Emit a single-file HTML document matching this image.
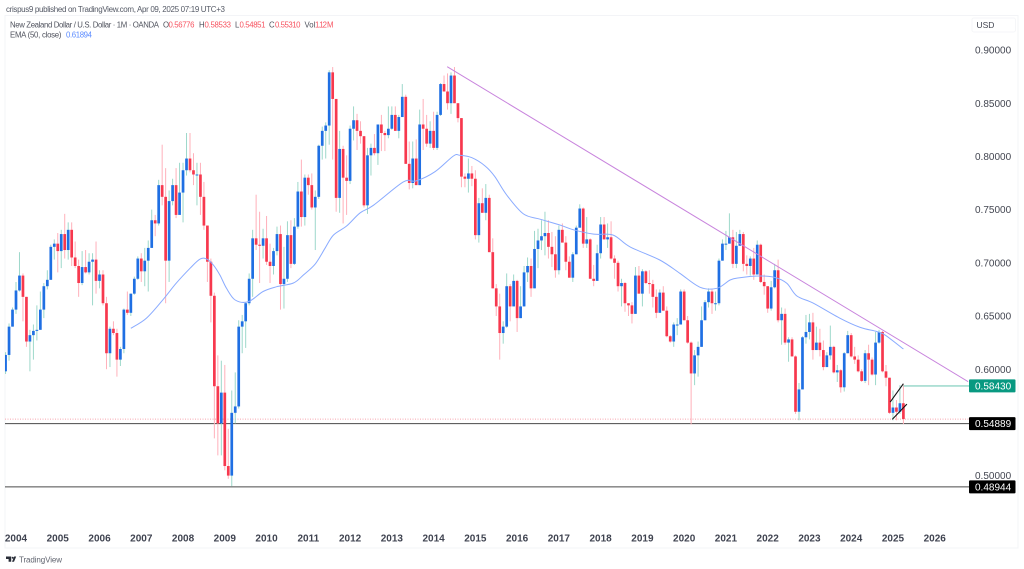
<!DOCTYPE html>
<html lang="en">
<head>
<meta charset="utf-8">
<title>New Zealand Dollar / U.S. Dollar monthly chart</title>
<style>
html,body{margin:0;padding:0;background:#fff;}
body{width:1024px;height:569px;overflow:hidden;font-family:"Liberation Sans",sans-serif;}
svg{display:block;}
text{font-family:"Liberation Sans",sans-serif;}
</style>
</head>
<body>
<svg id="chart" xmlns="http://www.w3.org/2000/svg" width="1024" height="569" viewBox="0 0 1024 569">
  <defs><clipPath id="plot-clip"><rect x="5" y="15" width="964" height="533"/></clipPath></defs>
  <rect x="5" y="15.5" width="1013" height="532.5" fill="#fff" stroke="#f3f4f7" stroke-width="1"/>
  <text x="6" y="12" font-size="8" fill="#555a66" textLength="219" lengthAdjust="spacing">crispus9 published on TradingView.com, Apr 09, 2025 07:19 UTC+3</text>
  <text x="10" y="27.5" font-size="7.8" fill="#50535e" textLength="149" lengthAdjust="spacing">New Zealand Dollar / U.S. Dollar · 1M · OANDA</text>
  <g font-size="7.8" fill="#50535e">
    <text x="163" y="27.5">O</text><text x="168.5" y="27.5" fill="#f7525f" textLength="26" lengthAdjust="spacing">0.56776</text>
    <text x="199" y="27.5">H</text><text x="204.5" y="27.5" fill="#f7525f" textLength="26.5" lengthAdjust="spacing">0.58533</text>
    <text x="235" y="27.5">L</text><text x="239.5" y="27.5" fill="#f7525f" textLength="26" lengthAdjust="spacing">0.54851</text>
    <text x="269" y="27.5">C</text><text x="275" y="27.5" fill="#f7525f" textLength="25.5" lengthAdjust="spacing">0.55310</text>
    <text x="304.5" y="27.5">Vol</text><text x="315" y="27.5" fill="#f7525f" textLength="18.5" lengthAdjust="spacing">1.12 M</text>
  </g>
  <text x="10" y="37.5" font-size="7.8" fill="#50535e" textLength="51.5" lengthAdjust="spacing">EMA (50, close)</text>
  <text x="66" y="37.5" font-size="7.8" fill="#5b8bff" textLength="26" lengthAdjust="spacing">0.61894</text>
  <g>
    <rect x="972" y="18" width="43.5" height="14" rx="2" fill="#fff" stroke="#f5f6f8"/>
    <text x="976.5" y="28" font-size="8.5" fill="#434651">USD</text>
  </g>
  <g id="plot" clip-path="url(#plot-clip)"></g>
  <g id="overlays"></g>
  <g id="y-axis"></g>
  <g id="x-axis"></g>
  <g id="labels"></g>
  <g>
    <path d="M6 556.5h5.2v5.3H8.6v-2.8H6zM12 561.8l2.2-5.3h2l-2.2 5.3z" fill="#2a2e39"/>
    <circle cx="12.7" cy="557.7" r="1" fill="#2a2e39"/>
    <text x="19" y="562.5" font-size="8" fill="#60646f" textLength="43" lengthAdjust="spacing">TradingView</text>
  </g>
</svg>
<script>
const firstOpen = 0.598;
const firstMonthIndex = -3; // Oct 2003, relative to Jan 2004
const closes = [
.6134,.640,.656,.674,.688,.668,.626,.632,.636,.637,
.656,.678,.684,.715,.718,.711,.727,.712,.731,.705,
.697,.681,.696,.691,.701,.703,.683,.689,.662,.615,
.638,.634,.609,.619,.656,.653,.671,.685,.704,.692,
.702,.714,.740,.737,.773,.762,.702,.758,.773,.745,
.766,.787,.798,.787,.783,.783,.762,.735,.701,.669,
.584,.549,.578,.509,.500,.559,.565,.640,.645,.662,
.685,.723,.717,.716,.723,.701,.697,.711,.727,.680,
.685,.726,.699,.734,.767,.743,.780,.773,.752,.762,
.810,.824,.829,.879,.854,.761,.807,.780,.777,.826,
.834,.824,.819,.754,.801,.808,.803,.830,.822,.820,
.826,.839,.824,.837,.856,.793,.775,.798,.773,.830,
.826,.812,.824,.808,.839,.868,.861,.850,.876,.850,
.836,.781,.779,.784,.779,.726,.756,.747,.761,.710,
.676,.659,.634,.640,.678,.659,.683,.648,.659,.691,
.697,.676,.713,.721,.725,.728,.715,.708,.693,.731,
.719,.701,.686,.708,.733,.751,.718,.722,.685,.683,
.709,.736,.722,.724,.704,.700,.678,.681,.662,.660,
.652,.688,.671,.692,.681,.680,.668,.653,.672,.655,
.631,.626,.642,.642,.673,.646,.625,.596,.613,.621,
.646,.663,.673,.662,.662,.702,.718,.718,.724,.699,
.716,.727,.699,.697,.704,.689,.717,.682,.678,.657,
.677,.693,.646,.652,.625,.628,.612,.560,.581,.630,
.635,.644,.618,.625,.618,.602,.613,.621,.597,.599,
.583,.615,.632,.612,.609,.598,.589,.615,.609,.595,
.625,.635,.598,.592,.559,.564,.560,.568,.5531];
const highs = [
.616,.643,.658,.682,.710,.690,.668,.637,.642,.660,
.673,.681,.693,.717,.722,.728,.731,.746,.738,.738,
.720,.703,.711,.712,.709,.709,.720,.693,.693,.668,
.640,.645,.638,.621,.657,.673,.671,.687,.706,.709,
.714,.721,.750,.745,.778,.811,.789,.768,.779,.789,
.794,.794,.822,.822,.803,.794,.794,.776,.735,.704,
.672,.613,.608,.604,.544,.580,.597,.646,.651,.663,
.690,.731,.764,.748,.732,.744,.718,.714,.734,.735,
.715,.739,.740,.742,.776,.797,.783,.783,.784,.768,
.811,.828,.832,.881,.884,.854,.824,.810,.801,.829,
.847,.840,.833,.819,.808,.812,.821,.830,.839,.824,
.847,.847,.847,.839,.868,.858,.814,.814,.816,.844,
.854,.839,.833,.842,.842,.869,.876,.878,.879,.884,
.850,.836,.784,.798,.791,.787,.761,.770,.774,.764,
.723,.680,.671,.645,.690,.680,.689,.684,.678,.697,
.705,.704,.730,.732,.740,.748,.740,.729,.725,.735,
.737,.725,.706,.710,.735,.755,.752,.743,.723,.698,
.717,.743,.743,.737,.739,.707,.702,.685,.682,.662,
.663,.696,.697,.694,.693,.693,.684,.675,.675,.678,
.659,.632,.644,.648,.675,.675,.650,.626,.618,.626,
.659,.665,.676,.675,.673,.704,.722,.730,.7465,.731,
.729,.731,.729,.707,.706,.714,.721,.718,.689,.678,
.683,.699,.703,.658,.657,.630,.630,.613,.587,.631,
.651,.652,.653,.640,.638,.627,.616,.641,.622,.604,
.600,.616,.636,.634,.621,.613,.600,.618,.623,.611,
.635,.637,.636,.604,.592,.580,.571,.585,.58533];
const lows = [
.5955,.608,.640,.652,.673,.645,.621,.598,.609,.627,
.637,.648,.675,.684,.703,.691,.695,.704,.703,.697,
.695,.668,.679,.690,.689,.660,.671,.676,.660,.600,
.602,.632,.593,.603,.615,.651,.650,.670,.684,.682,
.678,.673,.714,.725,.735,.754,.662,.682,.754,.742,
.751,.738,.782,.785,.773,.754,.745,.731,.682,.644,
.535,.519,.519,.505,.497,.490,.549,.563,.615,.620,
.660,.668,.712,.681,.704,.698,.681,.689,.707,.656,
.657,.682,.695,.698,.732,.734,.735,.764,.750,.712,
.760,.797,.798,.811,.797,.748,.747,.737,.745,.774,
.815,.806,.812,.752,.746,.782,.801,.792,.805,.805,
.817,.825,.824,.817,.837,.793,.769,.770,.773,.773,
.806,.809,.808,.806,.806,.838,.861,.844,.840,.850,
.832,.771,.771,.766,.772,.722,.719,.747,.740,.710,
.676,.650,.609,.624,.639,.645,.659,.635,.648,.659,
.682,.668,.676,.695,.712,.707,.704,.696,.686,.689,
.719,.693,.686,.682,.708,.733,.714,.714,.685,.678,
.683,.704,.722,.714,.703,.685,.673,.659,.654,.650,
.643,.652,.671,.659,.680,.671,.658,.648,.653,.655,
.630,.625,.621,.632,.642,.646,.624,.548,.585,.593,
.621,.646,.658,.652,.655,.660,.702,.712,.718,.695,
.695,.716,.692,.689,.688,.684,.689,.681,.670,.653,
.655,.676,.644,.623,.623,.607,.612,.558,.552,.581,
.624,.628,.609,.618,.612,.599,.602,.609,.596,.588,
.578,.579,.615,.611,.605,.597,.588,.587,.585,.594,
.585,.624,.597,.584,.558,.552,.552,.558,.54851];
const emaMonths = [33,37.5,42.3,46,50,52.9,54.8,56.7,58.6,60.5,63,66.8,71,74.9,79.7,82.6,86,88.8,91.2,95,98.9,102.7,111.3,115,120.4,125.7,127.6,131,134.8,137.6,141,145.8,150.6,156.3,160.2,166,171.6,176.4,185,190.8,196.6,201.4,205.2,208,213.8,218,221.5,224.4,229.2,236.8,242.6,247.4,249.8,255];
const emaValues = [.6384,.648,.6656,.6807,.6948,.7035,.7035,.698,.6885,.676,.665,.6635,.673,.6775,.681,.6885,.699,.7136,.726,.7346,.747,.754,.776,.777,.7856,.8004,.801,.7988,.791,.781,.7637,.746,.741,.7355,.731,.727,.726,.715,.7026,.690,.677,.676,.6838,.686,.6876,.6863,.6807,.6688,.6619,.6478,.6393,.6353,.632,.61894];
const priceTicks = ["0.90000","0.85000","0.80000","0.75000","0.70000","0.65000","0.60000","0.55000","0.50000"];
const yearTicks = ["2004","2005","2006","2007","2008","2009","2010","2011","2012","2013","2014","2015","2016","2017","2018","2019","2020","2021","2022","2023","2024","2025","2026"];
const supportLevels = ["0.54889","0.48944"];
const currentClose = 0.5531;
const targetPrice = "0.58430";
const trendMonths = [123.9,273.6];
const trendPrices = [0.8843,0.5883];
const flagUpperMonths = [251.2,255];
const flagUpperPrices = [0.5691,0.5864];
const flagLowerMonths = [251.8,256];
const flagLowerPrices = [0.5528,0.5672];

const NS = "http://www.w3.org/2000/svg";
function xScale(month){ return 16 + 3.48 * month; }
function yScale(price){ return 50 + (0.9 - price) * 1064; }
function mk(parent, tag){ const e = document.createElementNS(NS, tag); parent.appendChild(e); return e; }
function setAll(e, props){ for (const k in props) e.setAttribute(k, props[k]); return e; }

const plot = document.getElementById("plot");
const overlays = document.getElementById("overlays");
const yAxis = document.getElementById("y-axis");
const xAxis = document.getElementById("x-axis");
const labels = document.getElementById("labels");

// current-price dotted line
const currentLine = mk(plot, "line");


setAll(currentLine, {x1:5, x2:969, y1:yScale(currentClose), y2:yScale(currentClose), stroke:"#f7a5ae", "stroke-width":1, "stroke-dasharray":"1 1.5"});

// support lines
supportLevels.forEach(function(level){
  const line = mk(plot, "line");
  
  
  setAll(line, {x1:5, x2:969, y1:yScale(+level), y2:yScale(+level), stroke:"#4a4a4a", "stroke-width":1});
});

// candles
closes.forEach(function(close, n){
  const open = n === 0 ? firstOpen : closes[n - 1];
  const up = close >= open;
  const x = xScale(firstMonthIndex + n);
  const wick = mk(plot, "line");
  
  
  setAll(wick, {x1:x, x2:x, y1:yScale(highs[n]), y2:yScale(lows[n]), stroke: up ? "#9dd8ca" : "#ffb0ba", "stroke-width":1});
  const top = yScale(Math.max(open, close));
  const bottom = yScale(Math.min(open, close));
  const body = mk(plot, "rect");
  
  
  setAll(body, {x:x - 1.35, y:top, width:2.7, height:Math.max(bottom - top, 1), fill: up ? "#1f6fe3" : "#f7384e"});
});

// EMA line, smoothed through the sampled points
const emaPts = emaMonths.map(function(m, k){ return [xScale(m), yScale(emaValues[k])]; });
let emaD = "M" + emaPts[0][0].toFixed(1) + " " + emaPts[0][1].toFixed(1);
for (let k = 0; k < emaPts.length - 1; k++) {
  const p0 = emaPts[Math.max(k - 1, 0)];
  const p1 = emaPts[k];
  const p2 = emaPts[k + 1];
  const p3 = emaPts[Math.min(k + 2, emaPts.length - 1)];
  emaD += " C" + (p1[0] + (p2[0] - p0[0]) / 6).toFixed(1) + " " + (p1[1] + (p2[1] - p0[1]) / 6).toFixed(1) + " " + (p2[0] - (p3[0] - p1[0]) / 6).toFixed(1) + " " + (p2[1] - (p3[1] - p1[1]) / 6).toFixed(1) + " " + p2[0].toFixed(1) + " " + p2[1].toFixed(1);
}
const emaPath = mk(plot, "path");


setAll(emaPath, {d: emaD, fill:"none", stroke:"#8aabff", "stroke-width":1, "stroke-linejoin":"round"});

// trend line
const trend = mk(overlays, "line");


setAll(trend, {x1:xScale(trendMonths[0]), y1:yScale(trendPrices[0]), x2:xScale(trendMonths[1]), y2:yScale(trendPrices[1]), stroke:"#c884dd", "stroke-width":1});

// target line
const target = mk(overlays, "line");


setAll(target, {x1:xScale(255), x2:969, y1:yScale(+targetPrice), y2:yScale(+targetPrice), stroke:"#a3dccf", "stroke-width":1.6});

// flag pattern
const flagUpper = mk(overlays, "line");


setAll(flagUpper, {x1:xScale(flagUpperMonths[0]), y1:yScale(flagUpperPrices[0]), x2:xScale(flagUpperMonths[1]), y2:yScale(flagUpperPrices[1]), stroke:"#111", "stroke-width":1.1});
const flagLower = mk(overlays, "line");


setAll(flagLower, {x1:xScale(flagLowerMonths[0]), y1:yScale(flagLowerPrices[0]), x2:xScale(flagLowerMonths[1]), y2:yScale(flagLowerPrices[1]), stroke:"#111", "stroke-width":1.1});

// price axis
priceTicks.forEach(function(t){
  const lab = mk(yAxis, "text");
  
  
  setAll(lab, {x:975, y:yScale(+t) + 3.6, "font-size":10, fill:"#434651"});
  lab.textContent = t;
});

// time axis
yearTicks.forEach(function(t, k){
  const lab = mk(xAxis, "text");
  
  
  setAll(lab, {x:xScale(k * 12), y:541.5, "font-size":10, "font-weight":"bold", fill:"#3f4350", "text-anchor":"middle"});
  lab.textContent = t;
});

// price labels on axis
function priceBox(value, color){
  const y = yScale(+value);
  const box = mk(labels, "rect");
  
  
  setAll(box, {x:969, y:y - 6.5, width:46.5, height:13, rx:1, fill:color});
  const lab = mk(labels, "text");
  
  
  setAll(lab, {x:975, y:y + 3.6, "font-size":10, fill:"#ffffff"});
  lab.textContent = value;
}
priceBox(targetPrice, "#089981");
supportLevels.forEach(function(level){ priceBox(level, "#000000"); });
</script>
</body>
</html>
